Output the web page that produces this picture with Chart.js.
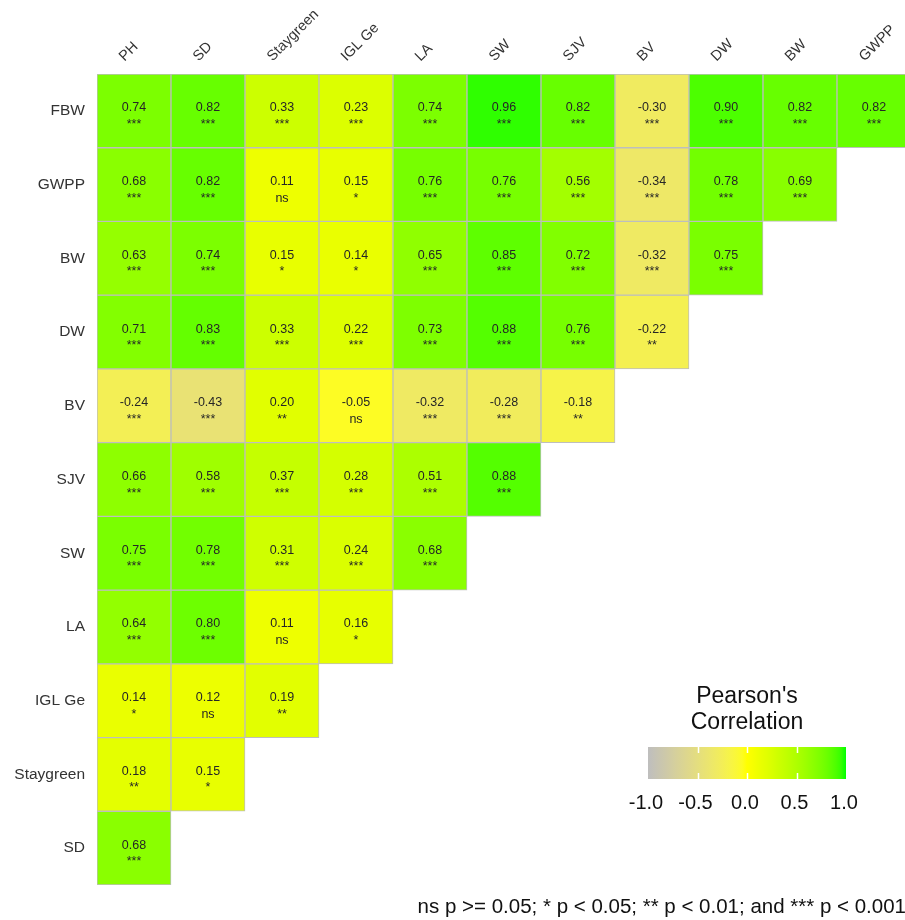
<!DOCTYPE html>
<html>
<head>
<meta charset="utf-8">
<script src="https://cdn.jsdelivr.net/npm/chart.js@4/dist/chart.umd.min.js"></script>
<style>
  html, body { margin: 0; padding: 0; background: #ffffff; overflow: hidden; }
  #wrap { width: 905px; height: 920px; overflow: hidden; position: relative; }
  canvas { display: block; }
</style>
</head>
<body>
<div id="wrap"><canvas id="corr" width="920" height="920"></canvas></div>
<script>
// Trait names along the top (columns) and down the side (rows)
const colTraits = ['PH', 'SD', 'Staygreen', 'IGL Ge', 'LA', 'SW', 'SJV', 'BV', 'DW', 'BW', 'GWPP'];
const rowTraits = ['FBW', 'GWPP', 'BW', 'DW', 'BV', 'SJV', 'SW', 'LA', 'IGL Ge', 'Staygreen', 'SD'];

// Pearson coefficients per row, in column order
const rFBW       = [0.74, 0.82, 0.33, 0.23, 0.74, 0.96, 0.82, -0.30, 0.90, 0.82, 0.82];
const rGWPP      = [0.68, 0.82, 0.11, 0.15, 0.76, 0.76, 0.56, -0.34, 0.78, 0.69];
const rBW        = [0.63, 0.74, 0.15, 0.14, 0.65, 0.85, 0.72, -0.32, 0.75];
const rDW        = [0.71, 0.83, 0.33, 0.22, 0.73, 0.88, 0.76, -0.22];
const rBV        = [-0.24, -0.43, 0.20, -0.05, -0.32, -0.28, -0.18];
const rSJV       = [0.66, 0.58, 0.37, 0.28, 0.51, 0.88];
const rSW        = [0.75, 0.78, 0.31, 0.24, 0.68];
const rLA        = [0.64, 0.80, 0.11, 0.16];
const rIGLGe     = [0.14, 0.12, 0.19];
const rStaygreen = [0.18, 0.15];
const rSD        = [0.68];

// Significance codes per row
const sFBW       = ['***', '***', '***', '***', '***', '***', '***', '***', '***', '***', '***'];
const sGWPP      = ['***', '***', 'ns', '*', '***', '***', '***', '***', '***', '***'];
const sBW        = ['***', '***', '*', '*', '***', '***', '***', '***', '***'];
const sDW        = ['***', '***', '***', '***', '***', '***', '***', '**'];
const sBV        = ['***', '***', '**', 'ns', '***', '***', '**'];
const sSJV       = ['***', '***', '***', '***', '***', '***'];
const sSW        = ['***', '***', '***', '***', '***'];
const sLA        = ['***', '***', 'ns', '*'];
const sIGLGe     = ['*', 'ns', '**'];
const sStaygreen = ['**', '*'];
const sSD        = ['***'];

// Colour-bar tick labels
const legendTicks = [-1.0, -0.5, 0.0, 0.5, 1.0];
const footnote = 'ns p >= 0.05; * p < 0.05; ** p < 0.01; and *** p < 0.001';

const rowValues = [rFBW, rGWPP, rBW, rDW, rBV, rSJV, rSW, rLA, rIGLGe, rStaygreen, rSD];
const rowSig = [sFBW, sGWPP, sBW, sDW, sBV, sSJV, sSW, sLA, sIGLGe, sStaygreen, sSD];

// ---- colour scale: grey (-1) -> yellow (0) -> green (1), interpolated in CIELAB ----
function srgbToLin(c) { c /= 255; return c <= 0.04045 ? c / 12.92 : Math.pow((c + 0.055) / 1.055, 2.4); }
function linToSrgb(c) { c = c <= 0.0031308 ? 12.92 * c : 1.055 * Math.pow(c, 1 / 2.4) - 0.055; return Math.round(Math.max(0, Math.min(1, c)) * 255); }
function rgbToLab([r, g, b]) {
  const R = srgbToLin(r), G = srgbToLin(g), B = srgbToLin(b);
  let X = (0.4124 * R + 0.3576 * G + 0.1805 * B) / 0.95047;
  let Y = (0.2126 * R + 0.7152 * G + 0.0722 * B);
  let Z = (0.0193 * R + 0.1192 * G + 0.9505 * B) / 1.08883;
  const f = t => t > 0.008856 ? Math.cbrt(t) : 7.787 * t + 16 / 116;
  const fx = f(X), fy = f(Y), fz = f(Z);
  return [116 * fy - 16, 500 * (fx - fy), 200 * (fy - fz)];
}
function labToRgb([L, a, b]) {
  const fy = (L + 16) / 116, fx = fy + a / 500, fz = fy - b / 200;
  const inv = t => t * t * t > 0.008856 ? t * t * t : (t - 16 / 116) / 7.787;
  const X = inv(fx) * 0.95047, Y = inv(fy), Z = inv(fz) * 1.08883;
  const R = 3.2406 * X - 1.5372 * Y - 0.4986 * Z;
  const G = -0.9689 * X + 1.8758 * Y + 0.0415 * Z;
  const B = 0.0557 * X - 0.2040 * Y + 1.0570 * Z;
  return [linToSrgb(R), linToSrgb(G), linToSrgb(B)];
}
const labLow = rgbToLab([190, 190, 190]);
const labMid = rgbToLab([255, 255, 0]);
const labHigh = rgbToLab([0, 255, 0]);
function colorFor(v) {
  const from = v < 0 ? labLow : labMid;
  const to = v < 0 ? labMid : labHigh;
  const t = v < 0 ? v + 1 : v;
  const lab = from.map((c, i) => c + (to[i] - c) * t);
  const [r, g, b] = labToRgb(lab);
  return `rgb(${r},${g},${b})`;
}

const FONT = "'Liberation Sans', Arial, sans-serif";

// One floating-bar dataset per row; each bar spans one row band on the y axis
const datasets = rowTraits.map((name, r) => {
  const vals = rowValues[r];
  return {
    label: name,
    data: colTraits.map((c, ci) => ci < vals.length ? [r - 0.5, r + 0.5] : null),
    backgroundColor: colTraits.map((c, ci) => ci < vals.length ? colorFor(vals[ci]) : 'rgba(0,0,0,0)'),
    borderColor: '#BEBEBE',
    borderWidth: 1,
    borderSkipped: false,
    grouped: false,
    barPercentage: 1,
    categoryPercentage: 1
  };
});

// Writes the coefficient and its significance code inside every cell
const cellText = {
  id: 'cellText',
  afterDatasetsDraw(chart) {
    const { ctx, scales: { x, y } } = chart;
    ctx.save();
    ctx.fillStyle = '#262626';
    ctx.textAlign = 'center';
    ctx.textBaseline = 'alphabetic';
    ctx.font = `12.5px ${FONT}`;
    rowValues.forEach((vals, r) => {
      const cy = y.getPixelForValue(r);
      vals.forEach((v, ci) => {
        const cx = x.getPixelForValue(ci);
        ctx.fillText(v.toFixed(2), cx, cy + 0.5);
        ctx.fillText(rowSig[r][ci], cx, cy + 17);
      });
    });
    ctx.restore();
  }
};

// Colour bar with its title and ticks, plus the significance footnote
const colourBar = {
  id: 'colourBar',
  afterDraw(chart) {
    const ctx = chart.ctx;
    const x0 = 648, x1 = 846, y0 = 747, y1 = 779;
    const toX = v => x0 + (v + 1) / 2 * (x1 - x0);
    ctx.save();
    const grad = ctx.createLinearGradient(x0, 0, x1, 0);
    for (let i = 0; i <= 40; i++) {
      const v = -1 + i / 20;
      grad.addColorStop(i / 40, colorFor(v));
    }
    ctx.fillStyle = grad;
    ctx.fillRect(x0, y0, x1 - x0, y1 - y0);
    ctx.strokeStyle = '#ffffff';
    ctx.lineWidth = 1.5;
    [-0.5, 0, 0.5].forEach(v => {
      const px = Math.round(toX(v)) + 0.5;
      ctx.beginPath();
      ctx.moveTo(px, y0); ctx.lineTo(px, y0 + 6);
      ctx.moveTo(px, y1 - 6); ctx.lineTo(px, y1);
      ctx.stroke();
    });
    ctx.fillStyle = '#111111';
    ctx.textAlign = 'center';
    ctx.textBaseline = 'middle';
    ctx.font = `23px ${FONT}`;
    ctx.fillText("Pearson's", 747, 697);
    ctx.fillText('Correlation', 747, 723);
    ctx.font = `20px ${FONT}`;
    legendTicks.forEach(v => {
      ctx.fillText(v.toFixed(1), toX(v) - 2, 803);
    });
    ctx.textAlign = 'right';
    ctx.font = `20.5px ${FONT}`;
    ctx.fillText(footnote, 906, 907);
    ctx.restore();
  }
};

new Chart(document.getElementById('corr'), {
  type: 'bar',
  data: { labels: colTraits, datasets },
  options: {
    responsive: false,
    animation: false,
    events: [],
    layout: { padding: { left: 0, top: 0, right: 9, bottom: 35 } },
    plugins: { legend: { display: false }, tooltip: { enabled: false }, title: { display: false } },
    scales: {
      x: {
        type: 'category',
        position: 'top',
        offset: true,
        grid: { display: false, drawTicks: false },
        border: { display: false },
        ticks: {
          autoSkip: false,
          minRotation: 45,
          maxRotation: 45,
          padding: 9,
          color: '#333333',
          font: { family: FONT, size: 14.5 }
        },
        afterFit(s) { s.height = 74; }
      },
      y: {
        type: 'linear',
        min: -0.5,
        max: 10.5,
        reverse: true,
        grid: { display: false, drawTicks: false },
        border: { display: false },
        afterBuildTicks(s) { s.ticks = rowTraits.map((_, i) => ({ value: i })); },
        ticks: {
          autoSkip: false,
          padding: 12,
          color: '#333333',
          font: { family: FONT, size: 15.5 },
          callback: v => rowTraits[v]
        },
        afterFit(s) { s.width = 97; }
      }
    }
  },
  plugins: [cellText, colourBar]
});
</script>
</body>
</html>
